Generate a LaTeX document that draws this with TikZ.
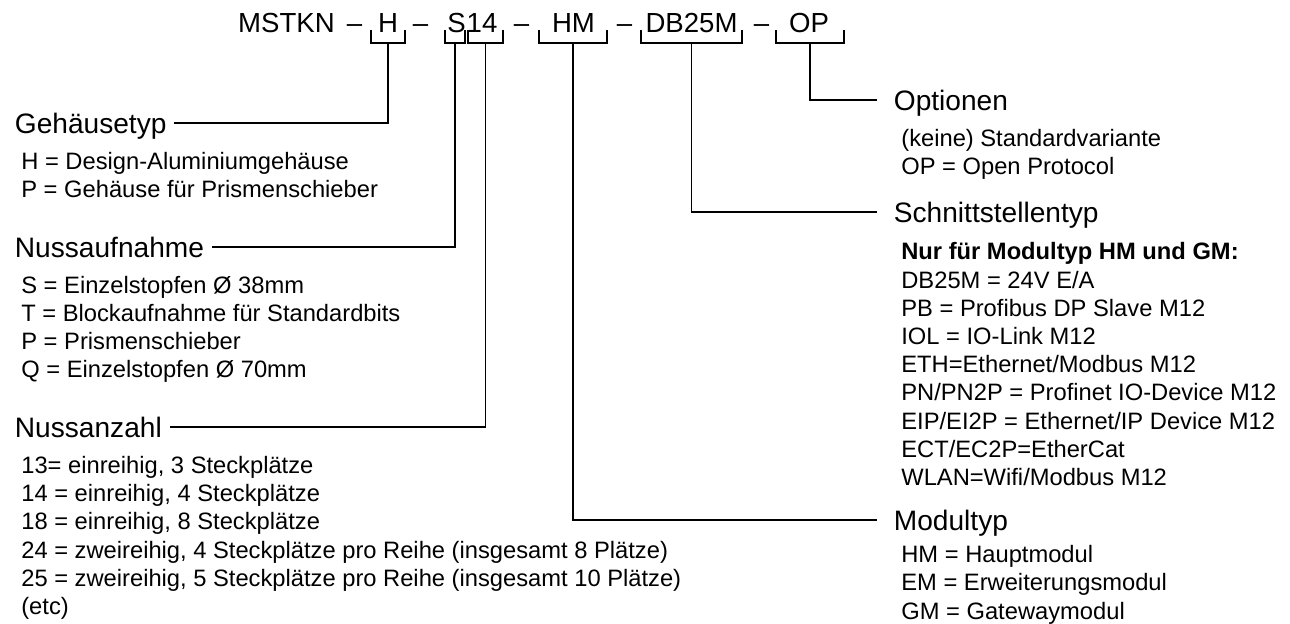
\documentclass[tikz,border=0pt]{standalone}
\usepackage{fontspec}
\setmainfont{Liberation Sans}
\usetikzlibrary{positioning}

\begin{document}
\begin{tikzpicture}[
  x=0.02cm, y=-0.02cm,
  code/.style={
    font=\fontsize{15.7pt}{18pt}\selectfont,
    anchor=base,
    inner sep=0pt
  },
  head/.style={
    font=\fontsize{16pt}{19pt}\selectfont,
    anchor=base west,
    text height=11.5pt,
    text depth=0pt,
    inner xsep=0pt, inner ysep=0pt,
    outer xsep=4.5pt
  },
  % multi-line lists: base anchor sits on the last line
  item/.style={
    font=\fontsize{13.5pt}{16.05pt}\selectfont,
    anchor=base west,
    align=left,
    inner sep=0pt
  },
  brk/.style={line width=0.7pt, draw=black},
  conn/.style={line width=0.7pt, draw=black}
]
  \useasboundingbox (0,0) rectangle (1290,623);

  % Order code
  \node[code] (mstkn) at (286.5,32) {MSTKN};
  \node[code] (d1) at (354.5,32) {–};
  \node[code] (cH) at (388,32) {H};
  \node[code] (d2) at (420.5,32) {–};
  \node[code] (cS) at (456.5,32) {S};
  \node[code] (cN) at (482,32) {14};
  \node[code] (d3) at (521.5,32) {–};
  \node[code] (cM) at (573.5,32) {HM};
  \node[code] (d4) at (624.5,32) {–};
  \node[code] (cD) at (691.5,32) {DB25M};
  \node[code] (d5) at (761.5,32) {–};
  \node[code] (cO) at (809,32) {OP};

  % Brackets under the code parts
  \draw[brk] (371,30) |- (405,43) -- (405,30);
  \draw[brk] (445,30) |- (465,43) -- (465,30);
  \draw[brk] (468,30) |- (503,43) -- (503,30);
  \draw[brk] (539,30) |- (607,43) -- (607,30);
  \draw[brk] (641,30) |- (742,43) -- (742,30);
  \draw[brk] (776,30) |- (844,43) -- (844,30);
  \coordinate (bH) at (388,43);
  \coordinate (bS) at (455,43);
  \coordinate (bN) at (485.5,43);
  \coordinate (bM) at (573,43);
  \coordinate (bD) at (691.5,43);
  \coordinate (bO) at (810,43);

  % Left column
  \node[head] (gehaeuse) at (7,133) {Gehäusetyp};
  \node[item] (gehaeuseList) at (21,197.3) {H = Design-Aluminiumgehäuse\\
    P = Gehäuse für Prismenschieber};

  \node[head] (aufnahme) at (7,257) {Nussaufnahme};
  \node[item] (aufnahmeList) at (21,377.9) {S = Einzelstopfen Ø 38mm\\
    T = Blockaufnahme für Standardbits\\
    P = Prismenschieber\\
    Q = Einzelstopfen Ø 70mm};

  \node[head] (anzahl) at (7,437) {Nussanzahl};
  \node[item] (anzahlList) at (21,614.5) {13= einreihig, 3 Steckplätze\\
    14 = einreihig, 4 Steckplätze\\
    18 = einreihig, 8 Steckplätze\\
    24 = zweireihig, 4 Steckplätze pro Reihe (insgesamt 8 Plätze)\\
    25 = zweireihig, 5 Steckplätze pro Reihe (insgesamt 10 Plätze)\\
    (etc)};

  % Right column
  \node[head] (optionen) at (886,110) {Optionen};
  \node[item] (optionenList) at (901,174.3) {(keine) Standardvariante\\
    OP = Open Protocol};

  \node[head] (schnitt) at (886,222) {Schnittstellentyp};
  \node[item] (schnittList) at (901,485.4) {\textbf{Nur für Modultyp HM und GM:}\\
    DB25M = 24V E/A\\
    PB = Profibus DP Slave M12\\
    IOL = IO-Link M12\\
    ETH=Ethernet/Modbus M12\\
    PN/PN2P = Profinet IO-Device M12\\
    EIP/EI2P = Ethernet/IP Device M12\\
    ECT/EC2P=EtherCat\\
    WLAN=Wifi/Modbus M12};

  \node[head] (modul) at (886,530) {Modultyp};
  \node[item] (modulList) at (901,619) {HM = Hauptmodul\\
    EM = Erweiterungsmodul\\
    GM = Gatewaymodul};

  % Connectors from the brackets to the headings
  \draw[conn] (bH) |- (gehaeuse.east);
  \draw[conn] (bS) |- (aufnahme.east);
  \draw[conn] (bN) |- (anzahl.east);
  \draw[conn, shorten >=5pt] (bO) |- (optionen.west);
  \draw[conn, shorten >=5pt] (bD) |- (schnitt.west);
  \draw[conn, shorten >=5pt] (bM) |- (modul.west);
\end{tikzpicture}
\end{document}
